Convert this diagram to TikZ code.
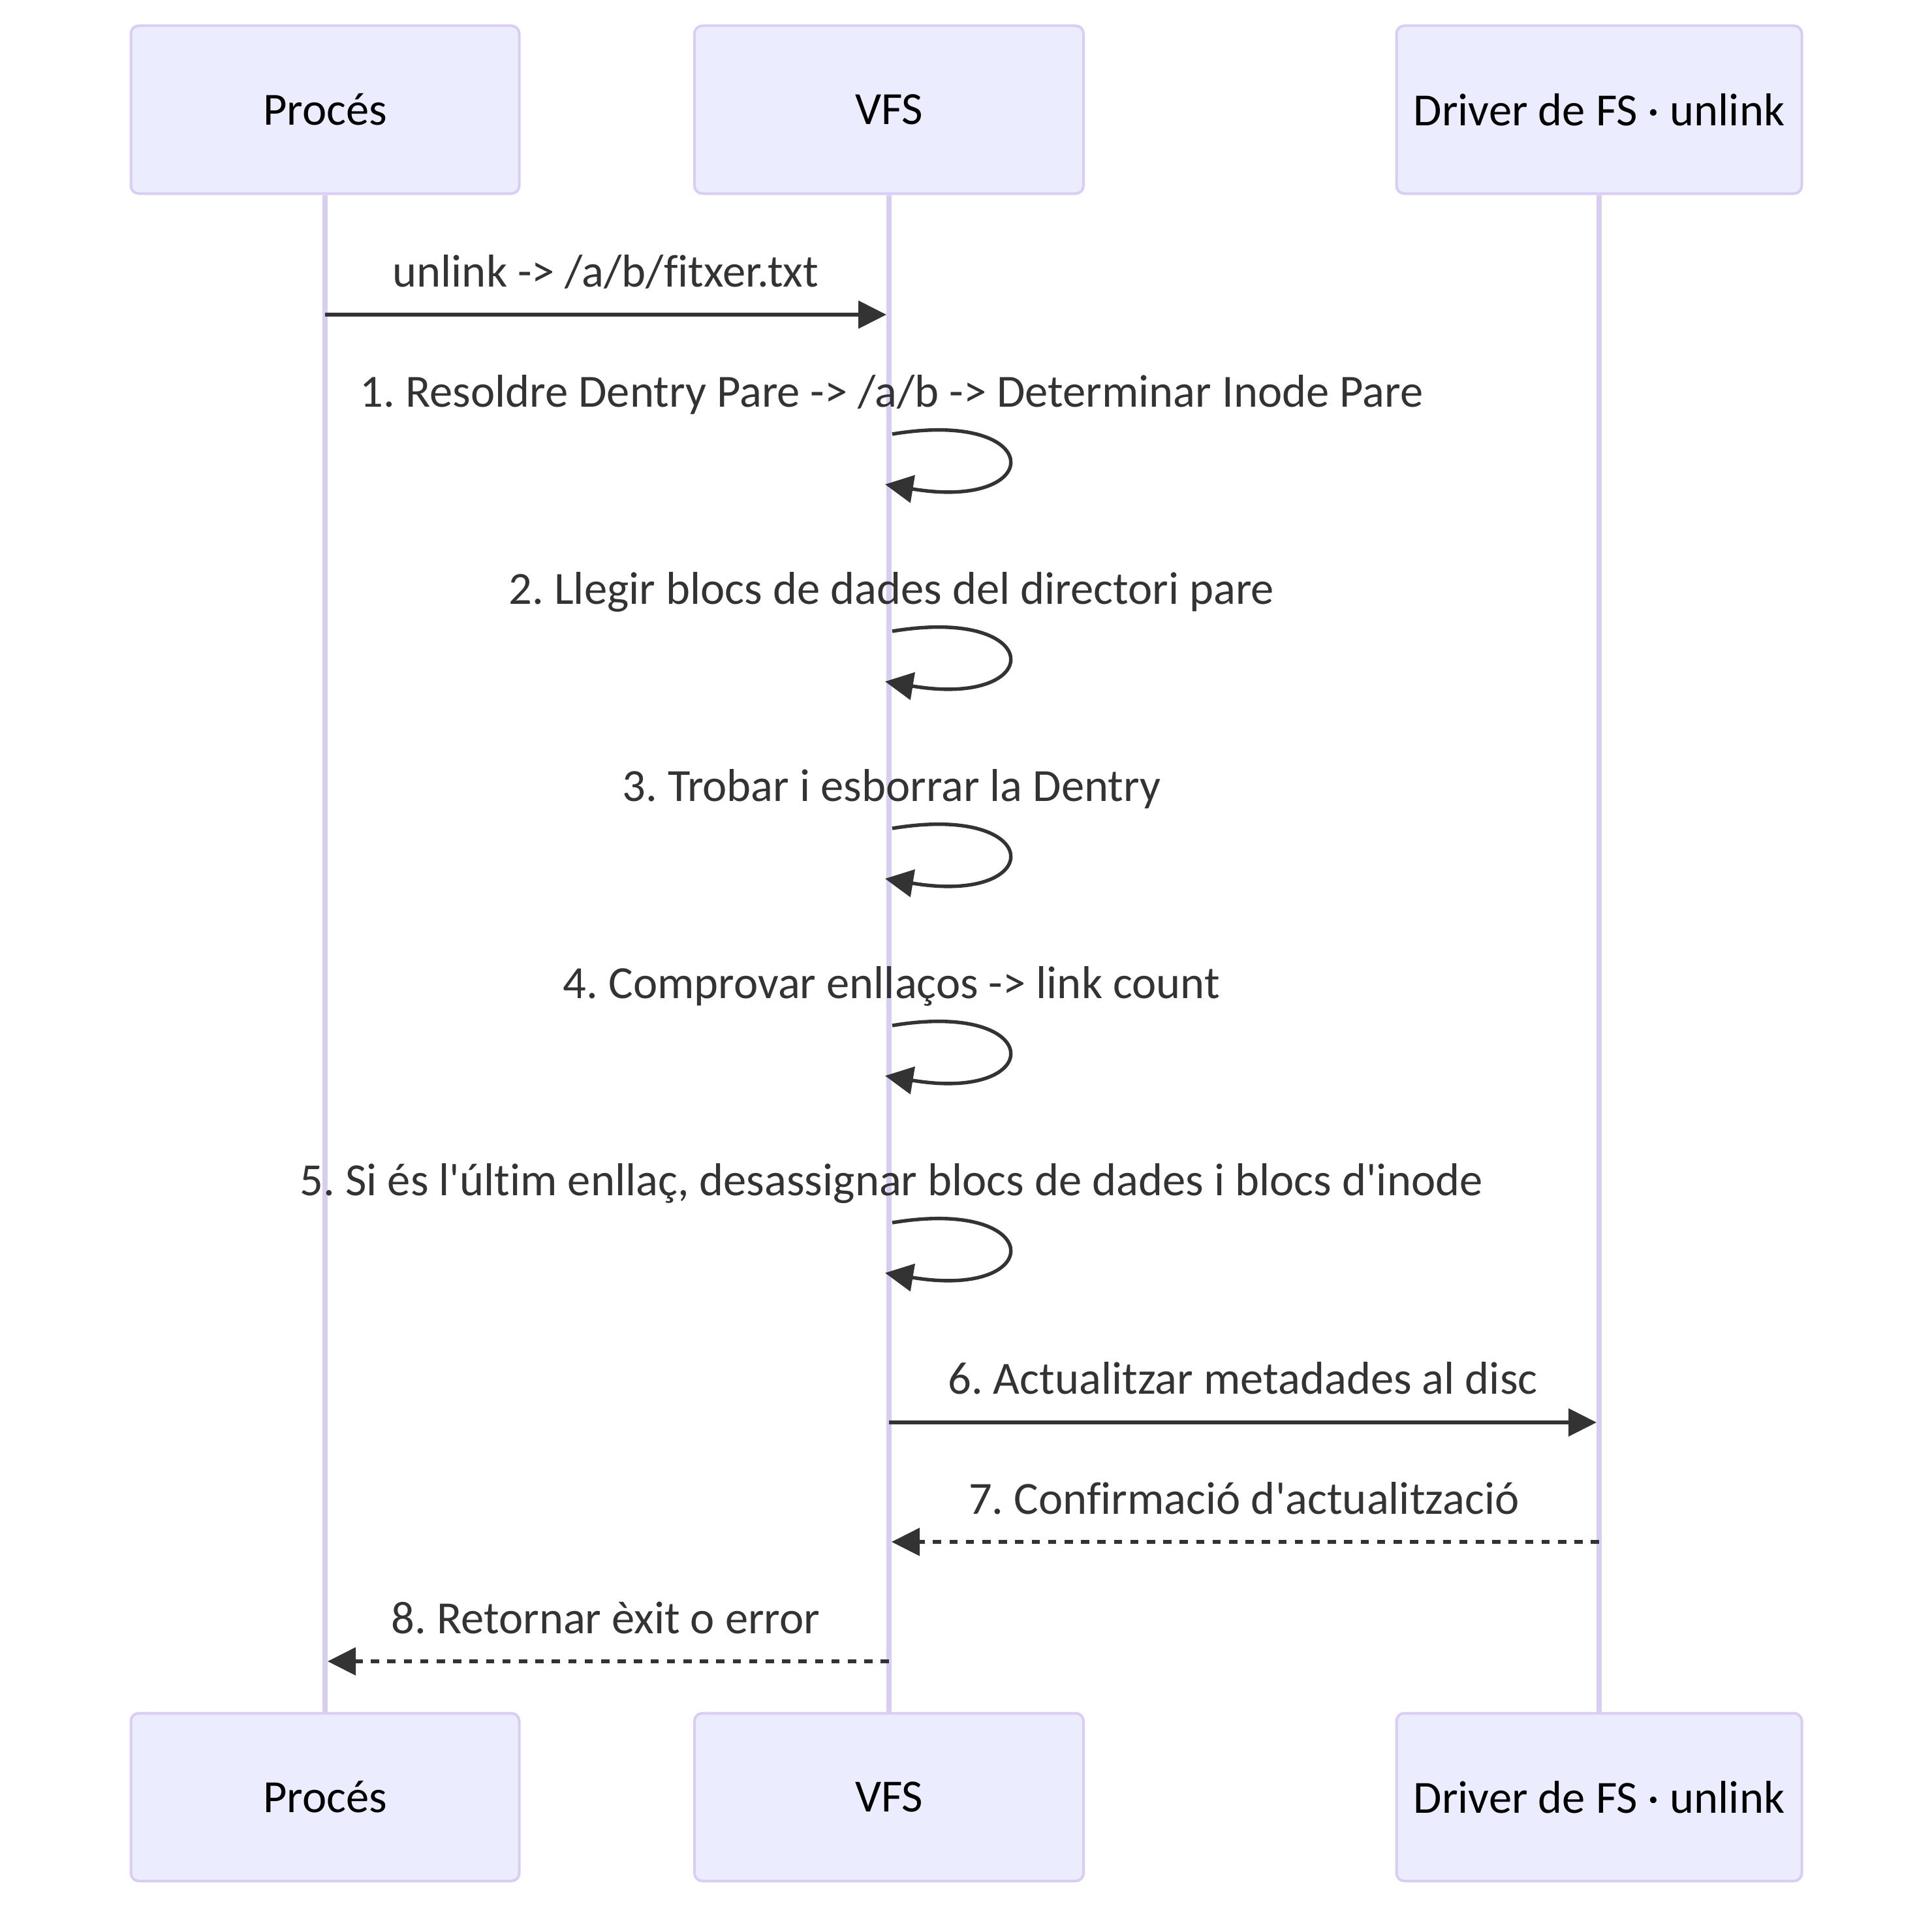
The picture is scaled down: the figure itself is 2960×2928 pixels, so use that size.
\documentclass[tikz,border=0pt]{standalone}
\usepackage{fontspec}
\setmainfont{Carlito}[Ligatures={TeX,NoCommon}]
\usetikzlibrary{arrows.meta}
\definecolor{actorfill}{HTML}{ECECFF}
\definecolor{actorline}{HTML}{D9CDF3}
\definecolor{msgcol}{HTML}{333333}
\newcommand\mfont{\fontsize{35.3}{42}\selectfont}
\frenchspacing
\begin{document}
\begin{tikzpicture}[x=0.5pt,y=-0.5pt,
  actor/.style={draw=actorline, line width=2pt, fill=actorfill, rounded corners=6pt,
    minimum height=128.5pt, inner sep=0pt, font=\mfont, text=black},
  lifeline/.style={draw=actorline, line width=4pt},
  msg/.style={draw=msgcol, line width=2.7pt, -{Triangle[length=21.5pt,width=21pt]}},
  reply/.style={msg, dash pattern=on 6.3pt off 6.3pt},
  lbl/.style={font=\mfont, text=msgcol, anchor=base, inner sep=0pt}]
\fill[white] (0,0) rectangle (2960,2928);
\useasboundingbox (0,0) rectangle (2960,2928);

% actors top
\node[actor, minimum width=297.5pt] (pt) at (498,168) {Procés};
\node[actor, minimum width=298pt] (vt) at (1362,168) {VFS};
\node[actor, minimum width=310.5pt] (dt) at (2450,168) {Driver de FS · unlink};
% actors bottom
\node[actor, minimum width=297.5pt] (pb) at (498,2753) {Procés};
\node[actor, minimum width=298pt] (vb) at (1362,2753) {VFS};
\node[actor, minimum width=310.5pt] (db) at (2450,2753) {Driver de FS · unlink};

% lifelines
\draw[lifeline] (pt.south) -- (pb.north);
\draw[lifeline] (vt.south) -- (vb.north);
\draw[lifeline] (dt.south) -- (db.north);

% message 1
\coordinate (m1s) at (498,482);
\coordinate (m1e) at (1358,482);
\draw[msg] (m1s) -- (m1e);
\node[lbl] (t1) at (928,439) {unlink -> /a/b/fitxer.txt};

% self loops
\coordinate (l1s) at (1367,665);  \coordinate (l1e) at (1356,742);
\coordinate (l2s) at (1367,967);  \coordinate (l2e) at (1356,1044);
\coordinate (l3s) at (1367,1269); \coordinate (l3e) at (1356,1346);
\coordinate (l4s) at (1367,1571); \coordinate (l4e) at (1356,1648);
\coordinate (l5s) at (1367,1873); \coordinate (l5e) at (1356,1950);
\draw[msg] (l1s) .. controls +(237,-39.5) and +(248,41.5) .. (l1e);
\draw[msg] (l2s) .. controls +(237,-39.5) and +(248,41.5) .. (l2e);
\draw[msg] (l3s) .. controls +(237,-39.5) and +(248,41.5) .. (l3e);
\draw[msg] (l4s) .. controls +(237,-39.5) and +(248,41.5) .. (l4e);
\draw[msg] (l5s) .. controls +(237,-39.5) and +(248,41.5) .. (l5e);
\node[lbl] (t2) at (1366,623) {1. Resoldre Dentry Pare -> /a/b -> Determinar Inode Pare};
\node[lbl] (t3) at (1366,925) {2. Llegir blocs de dades del directori pare};
\node[lbl] (t4) at (1366,1227) {3. Trobar i esborrar la Dentry};
\node[lbl] (t5) at (1366,1529) {4. Comprovar enllaços -> link count};
\node[lbl] (t6) at (1366,1831) {5. Si és l\textquotesingle{}últim enllaç, desassignar blocs de dades i blocs d\textquotesingle{}inode};

% message 6
\coordinate (m6s) at (1362,2179);
\coordinate (m6e) at (2446,2179);
\draw[msg] (m6s) -- (m6e);
\node[lbl] (t7) at (1904,2135) {6. Actualitzar metadades al disc};

% message 7
\coordinate (m7s) at (2450,2362);
\coordinate (m7e) at (1366,2362);
\draw[reply] (m7s) -- (m7e);
\node[lbl] (t8) at (1906,2319) {7. Confirmació d\textquotesingle{}actualització};

% message 8
\coordinate (m8s) at (1362,2545);
\coordinate (m8e) at (502,2545);
\draw[reply] (m8s) -- (m8e);
\node[lbl] (t9) at (928,2502) {8. Retornar èxit o error};
\end{tikzpicture}
\end{document}
